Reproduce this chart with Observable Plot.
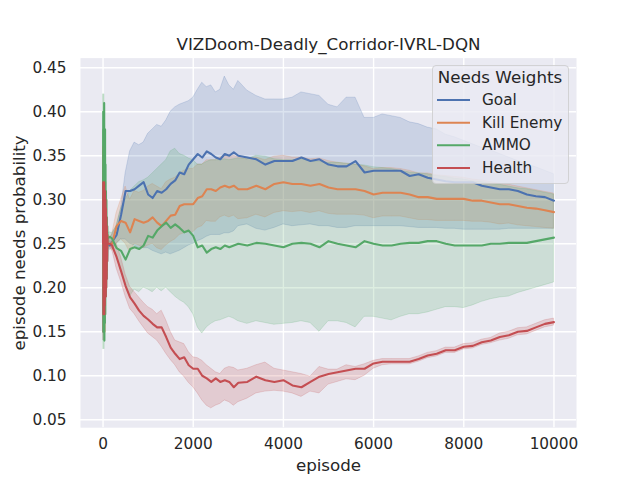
<!DOCTYPE html>
<html>
<head>
<meta charset="utf-8">
<script src="https://cdn.jsdelivr.net/npm/d3@7"></script>
<script src="https://cdn.jsdelivr.net/npm/@observablehq/plot@0.6"></script>
<style>
  body { margin: 0; background: #fff; }
  #chart { width: 640px; height: 480px; }
</style>
</head>
<body>
<div id="chart"></div>
<script>
// ---------- text ----------
const chartTitle = "VIZDoom-Deadly_Corridor-IVRL-DQN";
const xLabel = "episode";
const yLabel = "episode needs probability";
const legendTitle = "Needs Weights";

// ---------- categories / colours ----------
const seriesNames = ["Goal", "Kill Enemy", "AMMO", "Health"];
const seriesColors = ["#4C72B0", "#DD8452", "#55A868", "#C44E52"];

// ---------- tick labels ----------
const xTicks = [0, 2000, 4000, 6000, 8000, 10000];
const yTicks = [0.05, 0.10, 0.15, 0.20, 0.25, 0.30, 0.35, 0.40, 0.45];

// ---------- x values ----------
const episodes = [0,5,10,15,20,25,30,35,40,45,50,55,60,65,70,75,80,85,90,95,100,
  150,200,300,400,500,600,700,800,900,1000,1100,1200,1300,1400,1500,1600,1700,1800,1900,2000,
  2100,2200,2300,2400,2500,2600,2700,2800,2900,3000,
  3200,3400,3600,3800,4000,4200,4400,4600,4800,5000,5200,5400,5600,5800,6000,6200,6400,6600,6800,
  7000,7200,7400,7600,7800,8000,8200,8400,8600,8800,9000,9200,9400,9600,9800,10000];

// ---------- Goal ----------
const goalMean = [0.25,0.34,0.15,0.31,0.17,0.32,0.16,0.30,0.18,0.29,0.19,0.28,0.20,0.27,0.21,0.27,0.22,0.26,0.23,0.255,0.25,
  0.248,0.252,0.26,0.283,0.31,0.31,0.312,0.316,0.32,0.306,0.302,0.31,0.308,0.312,0.318,0.322,0.331,0.329,0.34,0.346,0.352,0.348,0.355,0.352,0.348,0.346,0.352,0.35,0.354,0.35,
  0.348,0.346,0.34,0.344,0.344,0.344,0.348,0.344,0.346,0.34,0.338,0.338,0.344,0.331,0.333,0.333,0.333,0.333,0.327,0.329,0.325,0.323,0.321,0.32,0.32,0.32,0.316,0.314,0.312,0.312,0.31,0.306,0.304,0.303,0.299];
const goalLow = [0.24,0.31,0.14,0.29,0.16,0.29,0.15,0.28,0.17,0.27,0.18,0.26,0.19,0.25,0.20,0.25,0.21,0.245,0.22,0.245,0.245,
  0.243,0.245,0.25,0.255,0.255,0.25,0.248,0.245,0.245,0.245,0.242,0.24,0.238,0.24,0.238,0.24,0.242,0.245,0.248,0.25,0.253,0.255,0.258,0.26,0.26,0.26,0.262,0.262,0.264,0.27,
  0.272,0.267,0.265,0.268,0.272,0.27,0.271,0.272,0.27,0.27,0.268,0.268,0.27,0.27,0.27,0.27,0.27,0.27,0.269,0.268,0.268,0.268,0.267,0.267,0.266,0.266,0.266,0.266,0.266,0.267,0.267,0.267,0.267,0.267,0.267];
const goalHigh = [0.26,0.36,0.17,0.33,0.19,0.34,0.18,0.32,0.20,0.31,0.21,0.30,0.22,0.29,0.23,0.28,0.24,0.27,0.245,0.26,0.255,
  0.255,0.26,0.27,0.29,0.33,0.355,0.365,0.362,0.365,0.375,0.38,0.385,0.383,0.39,0.40,0.405,0.408,0.41,0.412,0.416,0.425,0.433,0.428,0.43,0.422,0.425,0.44,0.43,0.425,0.435,
  0.424,0.418,0.414,0.414,0.414,0.416,0.422,0.42,0.418,0.408,0.405,0.416,0.416,0.393,0.393,0.397,0.395,0.393,0.388,0.386,0.382,0.38,0.374,0.371,0.367,0.363,0.359,0.356,0.352,0.348,0.344,0.34,0.337,0.333,0.329];

// ---------- Kill Enemy ----------
const killMean = [0.25,0.36,0.15,0.33,0.16,0.34,0.15,0.31,0.17,0.30,0.19,0.29,0.20,0.28,0.21,0.27,0.22,0.26,0.23,0.26,0.25,
  0.25,0.25,0.27,0.276,0.274,0.263,0.278,0.276,0.274,0.276,0.28,0.274,0.27,0.276,0.282,0.283,0.293,0.295,0.295,0.295,0.302,0.304,0.312,0.312,0.31,0.314,0.316,0.314,0.316,0.312,
  0.312,0.316,0.312,0.318,0.32,0.318,0.318,0.316,0.318,0.314,0.312,0.312,0.312,0.31,0.306,0.308,0.308,0.308,0.306,0.303,0.303,0.301,0.301,0.301,0.301,0.299,0.299,0.297,0.295,0.295,0.293,0.291,0.29,0.288,0.286];
const killLow = [0.24,0.33,0.14,0.31,0.15,0.32,0.14,0.29,0.16,0.28,0.18,0.27,0.19,0.26,0.20,0.25,0.21,0.245,0.22,0.245,0.245,
  0.245,0.242,0.25,0.255,0.25,0.24,0.25,0.248,0.245,0.248,0.25,0.245,0.243,0.248,0.252,0.255,0.26,0.262,0.263,0.263,0.268,0.27,0.276,0.275,0.275,0.28,0.282,0.28,0.282,0.278,
  0.279,0.283,0.28,0.285,0.287,0.286,0.287,0.285,0.287,0.284,0.283,0.283,0.283,0.282,0.279,0.281,0.281,0.281,0.279,0.277,0.277,0.276,0.276,0.276,0.276,0.275,0.275,0.274,0.272,0.273,0.271,0.27,0.269,0.268,0.267];
const killHigh = [0.26,0.38,0.17,0.35,0.18,0.36,0.17,0.33,0.19,0.32,0.21,0.31,0.22,0.30,0.23,0.29,0.24,0.275,0.245,0.27,0.255,
  0.258,0.26,0.285,0.30,0.315,0.30,0.31,0.308,0.31,0.315,0.318,0.315,0.312,0.32,0.323,0.325,0.33,0.333,0.335,0.335,0.34,0.34,0.345,0.345,0.345,0.348,0.35,0.348,0.35,0.348,
  0.346,0.348,0.345,0.349,0.35,0.348,0.348,0.346,0.347,0.344,0.342,0.341,0.34,0.338,0.335,0.336,0.336,0.335,0.333,0.33,0.33,0.328,0.327,0.326,0.325,0.323,0.322,0.32,0.318,0.317,0.315,0.313,0.311,0.309,0.307];

// ---------- AMMO ----------
const ammoMean = [0.25,0.40,0.15,0.36,0.18,0.41,0.14,0.33,0.16,0.38,0.17,0.34,0.19,0.31,0.20,0.30,0.21,0.28,0.23,0.27,0.256,
  0.258,0.256,0.245,0.242,0.232,0.244,0.246,0.244,0.248,0.259,0.257,0.265,0.27,0.274,0.268,0.272,0.268,0.263,0.265,0.259,0.246,0.248,0.24,0.244,0.246,0.244,0.248,0.246,0.248,0.25,
  0.248,0.251,0.25,0.248,0.246,0.25,0.251,0.25,0.246,0.253,0.25,0.248,0.246,0.253,0.25,0.248,0.248,0.25,0.251,0.251,0.253,0.253,0.25,0.248,0.248,0.248,0.248,0.25,0.25,0.251,0.251,0.251,0.253,0.255,0.257];
const ammoLow = [0.24,0.38,0.13,0.34,0.16,0.39,0.13,0.31,0.15,0.36,0.16,0.32,0.18,0.29,0.19,0.28,0.20,0.27,0.22,0.26,0.25,
  0.252,0.25,0.235,0.22,0.205,0.19,0.198,0.195,0.2,0.198,0.195,0.2,0.196,0.2,0.195,0.19,0.186,0.183,0.178,0.17,0.155,0.148,0.155,0.159,0.162,0.163,0.165,0.167,0.165,0.162,
  0.159,0.162,0.16,0.158,0.159,0.16,0.162,0.16,0.15,0.162,0.162,0.16,0.155,0.167,0.167,0.165,0.163,0.167,0.17,0.17,0.172,0.175,0.178,0.178,0.177,0.18,0.184,0.187,0.189,0.19,0.194,0.197,0.2,0.203,0.206];
const ammoHigh = [0.26,0.42,0.17,0.38,0.20,0.42,0.16,0.35,0.18,0.40,0.19,0.36,0.21,0.33,0.22,0.32,0.23,0.30,0.24,0.28,0.262,
  0.263,0.262,0.27,0.29,0.30,0.31,0.315,0.32,0.322,0.325,0.33,0.335,0.34,0.345,0.355,0.358,0.352,0.35,0.347,0.345,0.34,0.34,0.343,0.345,0.345,0.345,0.346,0.345,0.346,0.347,
  0.346,0.35,0.349,0.346,0.345,0.345,0.346,0.344,0.343,0.342,0.342,0.341,0.34,0.339,0.337,0.336,0.335,0.333,0.331,0.33,0.329,0.327,0.326,0.324,0.323,0.321,0.32,0.318,0.317,0.315,0.313,0.312,0.31,0.308,0.306];

// ---------- Health ----------
const healthMean = [0.25,0.32,0.17,0.31,0.18,0.32,0.17,0.30,0.18,0.31,0.19,0.30,0.19,0.29,0.20,0.28,0.21,0.27,0.23,0.26,0.25,
  0.25,0.248,0.235,0.219,0.202,0.189,0.182,0.174,0.168,0.164,0.159,0.155,0.155,0.144,0.132,0.125,0.119,0.121,0.112,0.108,0.108,0.1,0.097,0.093,0.097,0.093,0.095,0.093,0.087,0.092,
  0.093,0.099,0.095,0.093,0.095,0.089,0.087,0.093,0.099,0.102,0.104,0.106,0.108,0.108,0.114,0.116,0.116,0.116,0.116,0.119,0.123,0.125,0.129,0.129,0.133,0.134,0.138,0.14,0.144,0.146,0.15,0.151,0.155,0.159,0.161];
const healthLow = [0.24,0.30,0.16,0.29,0.17,0.30,0.16,0.28,0.17,0.29,0.18,0.28,0.18,0.27,0.19,0.26,0.20,0.26,0.22,0.25,0.245,
  0.247,0.244,0.222,0.207,0.19,0.176,0.17,0.162,0.155,0.148,0.144,0.14,0.133,0.125,0.118,0.112,0.104,0.099,0.092,0.087,0.08,0.072,0.066,0.063,0.066,0.068,0.072,0.07,0.066,0.07,
  0.074,0.08,0.082,0.083,0.082,0.08,0.076,0.082,0.08,0.09,0.093,0.096,0.095,0.1,0.108,0.112,0.113,0.113,0.113,0.116,0.12,0.122,0.126,0.126,0.13,0.131,0.135,0.137,0.14,0.142,0.146,0.147,0.151,0.155,0.157];
const healthHigh = [0.26,0.34,0.18,0.33,0.19,0.34,0.18,0.32,0.19,0.33,0.20,0.32,0.20,0.31,0.21,0.30,0.22,0.28,0.24,0.27,0.255,
  0.253,0.252,0.25,0.235,0.215,0.201,0.195,0.189,0.183,0.178,0.175,0.17,0.174,0.163,0.15,0.14,0.138,0.136,0.127,0.121,0.12,0.117,0.112,0.108,0.104,0.102,0.108,0.11,0.109,0.106,
  0.108,0.112,0.115,0.108,0.106,0.104,0.102,0.099,0.11,0.107,0.107,0.112,0.11,0.113,0.117,0.119,0.119,0.119,0.119,0.122,0.126,0.128,0.132,0.132,0.136,0.137,0.141,0.143,0.148,0.15,0.154,0.155,0.159,0.163,0.165];

// ---------- build ----------
const seriesData = [
  [goalMean, goalLow, goalHigh],
  [killMean, killLow, killHigh],
  [ammoMean, ammoLow, ammoHigh],
  [healthMean, healthLow, healthHigh]
];

const textColor = "#262626";
const font = "DejaVu Sans, Liberation Sans, sans-serif";

const marks = [
  Plot.frame({fill: "#EAEAF2", stroke: "none"}),
  Plot.gridX(xTicks, {stroke: "#ffffff", strokeOpacity: 1, strokeWidth: 1.4}),
  Plot.gridY(yTicks, {stroke: "#ffffff", strokeOpacity: 1, strokeWidth: 1.4})
];

const seriesRows = seriesNames.map((name, k) => {
  const [m, lo, hi] = seriesData[k];
  return episodes.map((e, i) => ({episode: e, mean: m[i], low: lo[i], high: hi[i], name}));
});

// confidence bands sit below every line (as in matplotlib: fills zorder 1, lines zorder 2)
seriesNames.forEach((name, k) => {
  const c = seriesColors[k];
  marks.push(Plot.areaY(seriesRows[k], {x: "episode", y1: "low", y2: "high", fill: c, fillOpacity: 0.2,
    stroke: c, strokeOpacity: 0.2, strokeWidth: 1}));
});
seriesNames.forEach((name, k) => {
  marks.push(Plot.lineY(seriesRows[k], {x: "episode", y: "mean", stroke: seriesColors[k], strokeWidth: 2.1}));
});

marks.push(
  Plot.axisX(xTicks, {tickSize: 0, tickPadding: 10, tickFormat: d => String(d), label: null,
    fontSize: 15.3, fill: textColor}),
  Plot.axisY(yTicks, {tickSize: 0, tickPadding: 14, tickFormat: d3.format(".2f"), label: null,
    fontSize: 15.3, fill: textColor}),
  Plot.text([chartTitle], {text: d => d, frameAnchor: "top", textAnchor: "middle", lineAnchor: "middle",
    dy: -13.6, fontSize: 16.7, fill: textColor}),
  Plot.text([xLabel], {text: d => d, frameAnchor: "bottom", textAnchor: "middle", lineAnchor: "middle",
    dy: 37.5, fontSize: 16.7, fill: textColor}),
  Plot.text([yLabel], {text: d => d, frameAnchor: "left", textAnchor: "middle", lineAnchor: "middle",
    dx: -61, rotate: -90, fontSize: 16.7, fill: textColor})
);

const svg = Plot.plot({
  width: 640,
  height: 480,
  marginLeft: 80,
  marginRight: 64,
  marginTop: 57.6,
  marginBottom: 52.8,
  x: {domain: [-500, 10500]},
  y: {domain: [0.041, 0.461]},
  style: {fontFamily: font, fontSize: "15.3px", color: textColor, background: "#ffffff", overflow: "visible"},
  marks
});

// ---------- legend (inside the axes, upper right) ----------
const g = d3.select(svg).append("g").attr("font-family", font).attr("fill", textColor)
  .attr("text-anchor", "start");
g.append("rect")
  .attr("x", 432.5).attr("y", 65.5).attr("width", 136).attr("height", 118)
  .attr("rx", 3.5).attr("ry", 3.5)
  .attr("fill", "#EAEAF2").attr("fill-opacity", 0.8)
  .attr("stroke", "#cccccc").attr("stroke-opacity", 0.8).attr("stroke-width", 1);
g.append("text").attr("x", 500).attr("y", 77.5).attr("dy", "0.32em")
  .attr("text-anchor", "middle").attr("font-size", 16.7).text(legendTitle);
const rowY = [100, 122.7, 145.3, 168];
seriesNames.forEach((name, k) => {
  g.append("line").attr("x1", 437).attr("x2", 470).attr("y1", rowY[k]).attr("y2", rowY[k])
    .attr("stroke", seriesColors[k]).attr("stroke-width", 2.1);
  g.append("text").attr("x", 482).attr("y", rowY[k]).attr("dy", "0.32em")
    .attr("text-anchor", "start").attr("font-size", 15.3).text(name);
});

document.getElementById("chart").appendChild(svg);
</script>
</body>
</html>
